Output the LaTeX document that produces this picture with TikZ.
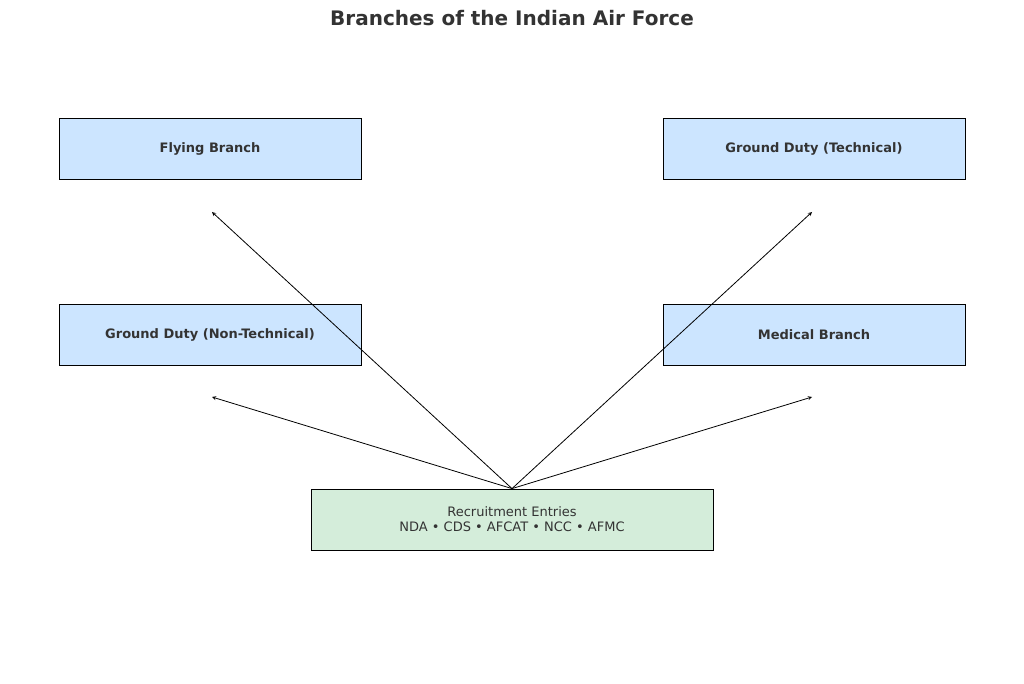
\documentclass[tikz,border=0pt]{standalone}
\usepackage{fontspec}
\setmainfont{DejaVu Sans}
\usetikzlibrary{positioning}
\definecolor{iafblue}{HTML}{CCE5FF}
\definecolor{iafgreen}{HTML}{D4EDDA}
\definecolor{iaftext}{HTML}{333333}
\tikzset{
  branch/.style={rectangle, draw=black, thick, fill=iafblue, minimum width=302pt, minimum height=61pt, text=iaftext, font=\fontsize{13}{15}\selectfont\bfseries},
  entry/.style={rectangle, draw=black, thick, fill=iafgreen, minimum width=402pt, minimum height=61pt, text=iaftext, align=center, font=\fontsize{13}{15}\selectfont},
  arrow/.style={thick,->,>=stealth}
}
\begin{document}
\begin{tikzpicture}[x=1pt,y=-1pt]
\useasboundingbox (0,0) rectangle (1024,684);
% Title
\node (title) [text=iaftext, font=\fontsize{20}{24}\selectfont\bfseries] at (512,18) {Branches of the Indian Air Force};

% Branches
\node (flying) [branch] at (210,148.5) {Flying Branch};
\node (tech) [branch] at (814,148.5) {Ground Duty (Technical)};
\node (nontech) [branch] at (210,334.5) {Ground Duty (Non-Technical)};
\node (medical) [branch] at (814,334.5) {Medical Branch};

% Entries
\node (entry) [entry] at (512,519.5) {Recruitment Entries\\NDA • CDS • AFCAT • NCC • AFMC};

% Arrow ends
\coordinate (flyingend) at (212,212);
\coordinate (techend) at (812,212);
\coordinate (nontechend) at (212,397);
\coordinate (medicalend) at (812,397);

% Arrows
\draw[arrow] (entry.north) -- (flyingend);
\draw[arrow] (entry.north) -- (techend);
\draw[arrow] (entry.north) -- (nontechend);
\draw[arrow] (entry.north) -- (medicalend);
\end{tikzpicture}
\end{document}
